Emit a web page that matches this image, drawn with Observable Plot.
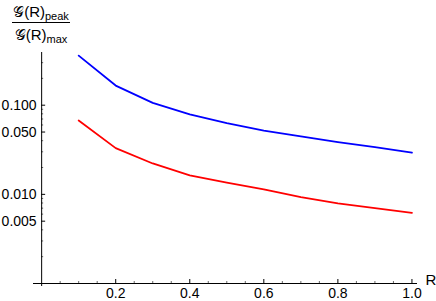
<!DOCTYPE html>
<html><head><meta charset="utf-8">
<script src="https://cdn.jsdelivr.net/npm/d3@7"></script>
<script src="https://cdn.jsdelivr.net/npm/@observablehq/plot@0.6"></script>
<style>
body{margin:0;background:#fff;}
#wrap{position:relative;width:436px;height:301px;}
#ylab{position:absolute;left:12px;top:3px;font-family:"Liberation Sans",Arial,sans-serif;color:#000;display:flex;flex-direction:column;align-items:center;}
#ylab .num,#ylab .den{font-size:15px;line-height:17px;white-space:nowrap;}
#ylab sub{font-size:11px;vertical-align:-3px;line-height:0;}
#ylab .bar{width:58px;height:1px;background:#000;margin:2px 0 3px 0;}
</style></head><body>
<div id="wrap"><div id="chart"></div>
<div id="ylab"><div class="num">𝒢(R)<sub>peak</sub></div><div class="bar"></div><div class="den">𝒢(R)<sub>max</sub></div></div>
</div>
<script>
const R = [0.1, 0.2, 0.3, 0.4, 0.5, 0.6, 0.7, 0.8, 0.9, 1.0];
const blueSeries = [0.360, 0.166, 0.106, 0.0787, 0.0629, 0.052, 0.0446, 0.0385, 0.0338, 0.0293];
const redSeries = [0.0674, 0.033, 0.0222, 0.0163, 0.0135, 0.0114, 0.0093, 0.0079, 0.0070, 0.0062];
const xDomain = [-0.022, 1.015];
const yDomain = [0.001, 0.39];
const yMajor = [0.005, 0.01, 0.05, 0.1];
const yMajorLabels = ["0.005", "0.010", "0.050", "0.100"];
const yMinor = [0.002, 0.003, 0.004, 0.006, 0.007, 0.008, 0.009, 0.02, 0.03, 0.04, 0.06, 0.07, 0.08, 0.09, 0.2, 0.3];
const xMajor = [0.2, 0.4, 0.6, 0.8, 1.0];
const xMajorLabels = ["0.2", "0.4", "0.6", "0.8", "1.0"];
const xMinor = [0.05, 0.1, 0.15, 0.25, 0.3, 0.35, 0.45, 0.5, 0.55, 0.65, 0.7, 0.75, 0.85, 0.9, 0.95];
const xAxisLabel = "R";

const blueData = R.map((r, i) => ({r, v: blueSeries[i]}));
const redData = R.map((r, i) => ({r, v: redSeries[i]}));
const font = "'Liberation Sans', Arial, sans-serif";

const chart = Plot.plot({
  width: 436, height: 301,
  marginLeft: 33, marginRight: 19, marginTop: 52, marginBottom: 18,
  x: {type: "linear", domain: xDomain, axis: null},
  y: {type: "log", domain: yDomain, axis: null},
  style: {fontFamily: font, fontSize: "14px", background: "#fff", color: "#000"},
  marks: [
    Plot.ruleY([yDomain[0]], {x1: xDomain[0], x2: xDomain[1], stroke: "#000", strokeWidth: 1}),
    Plot.ruleX([0], {y1: yDomain[1], y2: yDomain[0], insetBottom: -3, stroke: "#000", strokeWidth: 1}),
    Plot.ruleY(yMajor, {y: d => d, x1: 0, x2: 0, insetRight: -4, stroke: "#000"}),
    Plot.ruleY(yMinor, {y: d => d, x1: 0, x2: 0, insetRight: -2, stroke: "#000", strokeOpacity: 0.6}),
    Plot.ruleX(xMajor, {x: d => d, y1: yDomain[0], y2: yDomain[0], insetTop: -4, stroke: "#000"}),
    Plot.ruleX(xMinor, {x: d => d, y1: yDomain[0], y2: yDomain[0], insetTop: -2, stroke: "#000", strokeOpacity: 0.6}),
    Plot.text(yMajor, {x: 0, y: d => d, text: (d, i) => yMajorLabels[i], dx: -5, textAnchor: "end", fill: "#000", fontSize: 14}),
    Plot.text(xMajor, {x: d => d, y: yDomain[0], text: (d, i) => xMajorLabels[i], dy: 10, fill: "#000", fontSize: 14}),
    Plot.text([xAxisLabel], {x: xDomain[1], y: yDomain[0], text: d => d, dx: 8, dy: -3, textAnchor: "start", fill: "#000", fontSize: 15}),
    Plot.line(blueData, {x: "r", y: "v", stroke: "#0000ff", strokeWidth: 1.8}),
    Plot.line(redData, {x: "r", y: "v", stroke: "#ff0000", strokeWidth: 1.8})
  ]
});
document.getElementById("chart").appendChild(chart);
</script>
</body></html>
